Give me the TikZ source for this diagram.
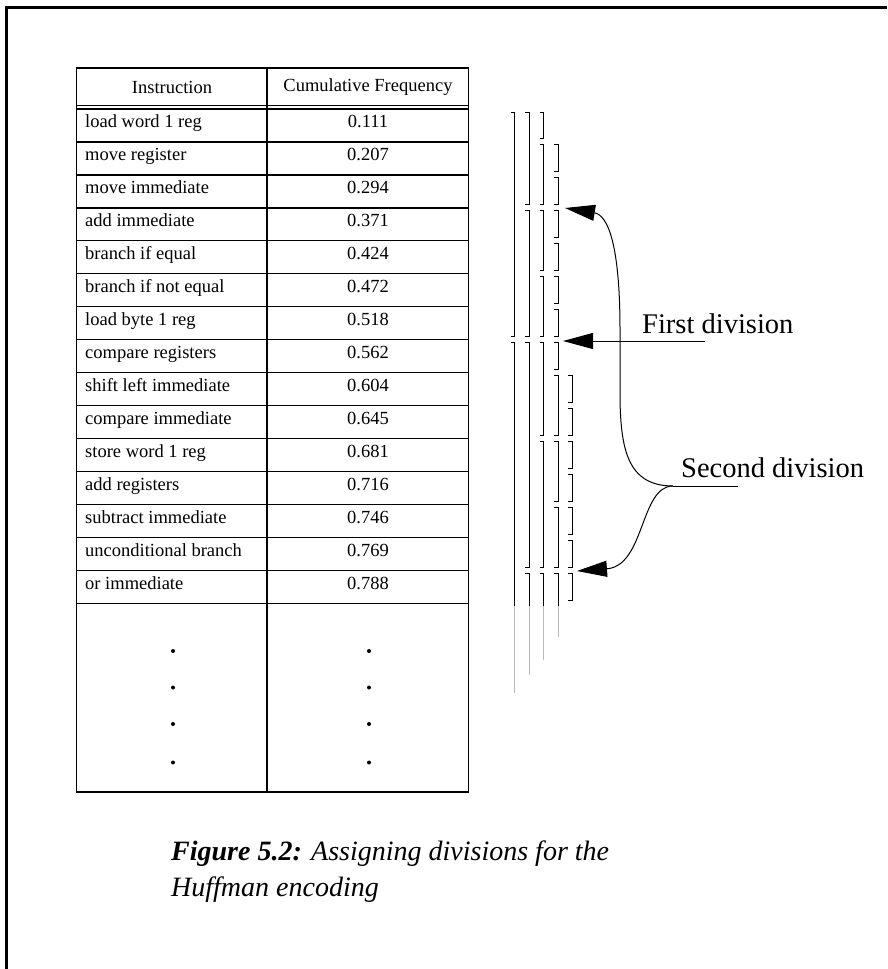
\documentclass[tikz,border=0pt]{standalone}
\usepackage{fontspec}
\setmainfont{Liberation Serif}
\usetikzlibrary{arrows.meta}
% row boundary k of the table (k = 0 is the top of the first data row)
\newcommand\rowy[1]{109+32.95*(#1)}
% closed bracket at abscissa #1 spanning rows #2..#3
\newcommand\brkt[3]{\draw[brk] ({#1-4},{\rowy{#2-1}+3}) -- ({#1},{\rowy{#2-1}+3}) -- ({#1},{\rowy{#3}-3}) -- ({#1-4},{\rowy{#3}-3});}
% open bracket at abscissa #1 starting at row #2, fading out down to #3
\newcommand\brko[3]{\draw[brk] ({#1-4},{\rowy{#2-1}+3}) -- ({#1},{\rowy{#2-1}+3}) -- ({#1},606); \draw[tail] ({#1},606) -- ({#1},#3);}
\begin{document}
\begin{tikzpicture}[x=1pt,y=-1pt,
  tbl/.style={line width=1.3pt},
  cell/.style={font=\fontsize{18.5}{22}\selectfont, inner sep=0pt},
  brk/.style={line width=1pt, line cap=butt},
  tail/.style={line width=1pt, gray!55},
  lbl/.style={font=\fontsize{28.5}{34}\selectfont, inner sep=0pt},
  capt/.style={font=\fontsize{28}{36}\selectfont, inner sep=0pt, anchor=base west},
  pointer/.style={line width=1pt, -{Triangle[length=30pt,width=16pt]}},
  dotmark/.style={circle, fill, inner sep=0pt, minimum size=4pt},
]
\useasboundingbox (0,0) rectangle (887,969);

% page frame (top and left edges)
\draw[line width=2.5pt] (6.5,969) -- (6.5,7.5) -- (887,7.5);

% table grid
\draw[tbl] (76.5,68) rectangle (468.5,792);
\draw[tbl] (267,68) -- (267,792);
\draw[tbl] (76.5,105.5) -- (468.5,105.5);
\foreach \k in {0,...,15}
  \draw[tbl] (76.5,{\rowy{\k}}) -- (468.5,{\rowy{\k}});

% header
\node[cell] (hins) at (172,87) {Instruction};
\node[cell] (hfrq) at (368,87) {Cumulative Frequency};

% table rows
\foreach \ins/\fr [count=\i] in {
  load word 1 reg/0.111,
  move register/0.207,
  move immediate/0.294,
  add immediate/0.371,
  branch if equal/0.424,
  branch if not equal/0.472,
  load byte 1 reg/0.518,
  compare registers/0.562,
  shift left immediate/0.604,
  compare immediate/0.645,
  store word 1 reg/0.681,
  add registers/0.716,
  subtract immediate/0.746,
  unconditional branch/0.769,
  or immediate/0.788}{
  \node[cell, anchor=mid west] (ins\i) at (85,{\rowy{\i-0.5}}) {\ins};
  \node[cell, anchor=mid] (frq\i) at (368,{\rowy{\i-0.5}}) {\fr};
}

% continuation dots
\foreach \y [count=\j] in {651,687.5,724,762.5}{
  \node[dotmark] (dl\j) at (173,\y) {};
  \node[dotmark] (dr\j) at (369,\y) {};
}

% level 1
\brkt{514.5}{1}{7}
\brko{514.5}{8}{693}
% level 2
\brkt{529}{1}{3}
\brkt{529}{4}{7}
\brkt{529}{8}{14}
\brko{529}{15}{675}
% level 3
\brkt{543.5}{1}{1}
\brkt{543.5}{2}{3}
\brkt{543.5}{4}{5}
\brkt{543.5}{6}{7}
\brkt{543.5}{8}{10}
\brkt{543.5}{11}{14}
\brko{543.5}{15}{660}
% level 4
\foreach \r in {2,...,8} {\brkt{558}{\r}{\r}}
\brkt{558}{9}{10}
\brkt{558}{11}{12}
\brkt{558}{13}{14}
\brko{558}{15}{637}
% level 5
\foreach \r in {9,...,15} {\brkt{572}{\r}{\r}}

% first division
\node[lbl, anchor=base west] (first) at (642,333.5) {First division};
\coordinate (firstend) at (705,341);
\coordinate (firsttip) at (563,341);
\draw[pointer] (firstend) -- (firsttip);

% second division
\node[lbl, anchor=base west] (second) at (681,477) {Second division};
\coordinate (fork) at (673,486);
\coordinate (secondend) at (738,486);
\coordinate (uptip) at (565,208);
\coordinate (lowtip) at (577,571);
\draw[line width=1pt] (fork) -- (secondend);
\draw[pointer] (fork) .. controls (628,486) and (621,450) .. (620,400)
  -- (620,330) .. controls (620,245) and (608,215) .. (uptip);
\draw[pointer] (fork) .. controls (640,486) and (645,566) .. (lowtip);

% caption
\node[capt] (cap1) at (171,860) {\textbf{\textit{Figure 5.2:}} \textit{Assigning divisions for the}};
\node[capt] (cap2) at (171,896) {\textit{Huffman encoding}};
\end{tikzpicture}
\end{document}
